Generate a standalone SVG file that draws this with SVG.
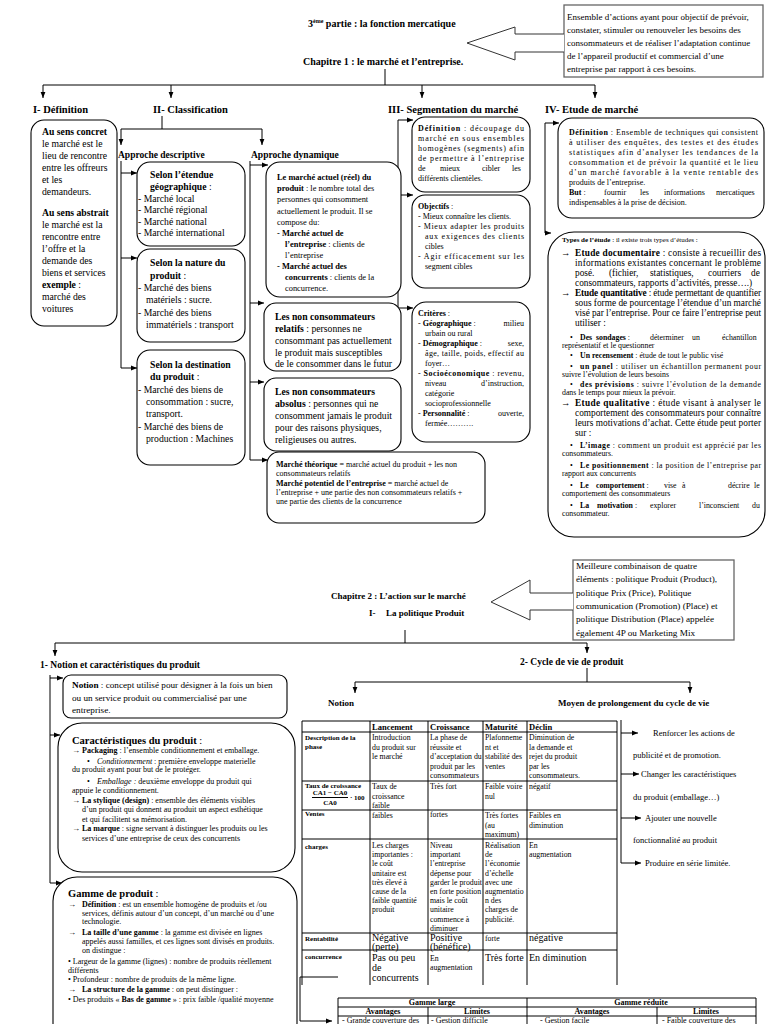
<svg xmlns="http://www.w3.org/2000/svg" width="768" height="1024" viewBox="0 0 768 1024">
<defs>
<marker id="ah" viewBox="0 0 10 10" refX="10" refY="5" markerWidth="6" markerHeight="6" orient="auto" markerUnits="userSpaceOnUse"><path d="M0,1 L10,5 L0,9 z" fill="#000"/></marker>
<style>
text{font-family:"Liberation Serif","Times New Roman",serif;fill:#000}
.h{font-weight:bold;font-size:10.5px}
.hm{font-weight:bold;font-size:9.5px}
.t{font-size:9.7px}
.m{font-size:9.3px}
.s{font-size:8px}
.sa{font-size:8.4px}
.tb{font-size:7.8px}
.bl{font-size:7.8px}
.xs{font-size:7px}
.b{font-weight:bold}
.i{font-style:italic}
.box{fill:#fff;stroke:#000;stroke-width:1.1}
.cb{fill:#fff;stroke:#666;stroke-width:1.3}
.ln{fill:none;stroke:#000;stroke-width:1}
.ar{fill:none;stroke:#000;stroke-width:1;marker-end:url(#ah)}
.hol{fill:#fff;stroke:#333;stroke-width:1}
</style>
</defs>
<rect width="768" height="1024" fill="#fff"/>

<g id="connectors">
<path class="ln" d="M385,69 V85 M43,85 H595"/>
<path class="ar" d="M43,85 V98"/>
<path class="ar" d="M171,85 V98"/>
<path class="ar" d="M422,85 V98"/>
<path class="ar" d="M595,85 V98"/>
<path class="ln" d="M162,116 V129 M121,129 H262"/>
<path class="ar" d="M121,129 V145"/>
<path class="ar" d="M262,129 V145"/>
<path class="ln" d="M121,161 V368"/>
<path class="ar" d="M121,173 H137"/>
<path class="ar" d="M121,258 H137"/>
<path class="ar" d="M121,368 H137"/>
<path class="ln" d="M250,161 V460"/>
<path class="ar" d="M250,165 H268"/>
<path class="ar" d="M250,303 H264"/>
<path class="ar" d="M250,382 H264"/>
<path class="ar" d="M250,460 H268"/>
<path class="ln" d="M398,120 V308"/>
<path class="ar" d="M398,120 H413"/>
<path class="ar" d="M398,195 H413"/>
<path class="ar" d="M398,308 H413"/>
<path class="ln" d="M545,123 V233"/>
<path class="ar" d="M545,123 H559"/>
<path class="ar" d="M545,233 H551"/>
<path class="ln" d="M405,630 V643 M55,643 H587"/>
<path class="ar" d="M55,643 V656"/>
<path class="ar" d="M587,643 V653"/>
<path class="ln" d="M587,668 V682 M355,682 H690"/>
<path class="ar" d="M355,682 V693"/>
<path class="ar" d="M690,682 V693"/>
<path class="ln" d="M50,675 V883"/>
<path class="ar" d="M50,678 H63"/>
<path class="ar" d="M50,735 H60"/>
<path class="ar" d="M50,883 H62"/>
<path class="ln" d="M621,720 V863"/>
<path class="ar" d="M621,733 H638"/>
<path class="ar" d="M621,774 H639"/>
<path class="ar" d="M621,818 H641"/>
<path class="ar" d="M621,863 H641"/>
<path class="ln" d="M338,977 H300 V1021"/>
<path class="ar" d="M300,1021 H332"/>
</g>

<g id="title">
<text x="308" y="27" class="b" font-size="10">3<tspan font-size="6" dy="-4">ème</tspan><tspan dy="4"> partie : la fonction mercatique</tspan></text>
<text x="303" y="65" class="b" font-size="10">Chapitre 1 : le marché et l’entreprise.</text>
</g>

<g id="callout1">
<rect class="cb" x="564" y="5" width="199" height="72"/>
<polyline class="hol" points="564,34 515,34 515,27 467,43 515,60 515,52 564,52"/>
<text font-size="9"><tspan x="567" y="20">Ensemble d’actions ayant pour objectif de prévoir,</tspan><tspan x="567" y="33">constater, stimuler ou renouveler les besoins des</tspan><tspan x="567" y="46">consommateurs et de réaliser l’adaptation continue</tspan><tspan x="567" y="59">de l’appareil productif et commercial d’une</tspan><tspan x="567" y="72">entreprise par rapport à ces besoins.</tspan></text>
</g>

<g id="headings1">
<text x="33" y="113" class="h">I-  Définition</text>
<text x="153" y="113" class="h">II- Classification</text>
<text x="388" y="113" class="h" font-size="11">III- Segmentation du marché</text>
<text x="545" y="113" class="h">IV- Etude de marché</text>
<text x="118" y="158" class="hm">Approche descriptive</text>
<text x="251" y="158" class="hm">Approche dynamique</text>
</g>

<g id="definition">
<rect class="box" x="31" y="120" width="86" height="206" rx="13"/>
<text class="t" font-size="9.5"><tspan x="42" y="135" class="b">Au sens concret</tspan><tspan x="42" y="147">le marché est le</tspan><tspan x="42" y="159">lieu de rencontre</tspan><tspan x="42" y="171">entre les offreurs</tspan><tspan x="42" y="183">et les</tspan><tspan x="42" y="195">demandeurs.</tspan><tspan x="42" y="216" class="b">Au sens abstrait</tspan><tspan x="42" y="228">le marché est la</tspan><tspan x="42" y="240">rencontre entre</tspan><tspan x="42" y="252">l’offre et la</tspan><tspan x="42" y="264">demande des</tspan><tspan x="42" y="276">biens et services</tspan><tspan x="42" y="288" class="b">exemple</tspan><tspan> :</tspan><tspan x="42" y="300">marché des</tspan><tspan x="42" y="312">voitures</tspan></text>
</g>

<g id="desc-geo">
<rect class="box" x="137" y="162" width="108" height="84" rx="13"/>
<text class="t"><tspan x="150" y="178" class="b">Selon l’étendue</tspan><tspan x="150" y="190" class="b">géographique</tspan><tspan> :</tspan><tspan x="138" y="201.5">- Marché local</tspan><tspan x="138" y="213">- Marché régional</tspan><tspan x="138" y="224.5">- Marché national</tspan><tspan x="138" y="236">- Marché international</tspan></text>
</g>
<g id="desc-nature">
<rect class="box" x="137" y="249" width="108" height="93" rx="13"/>
<text class="t"><tspan x="150" y="266" class="b">Selon la nature du</tspan><tspan x="150" y="279" class="b">produit</tspan><tspan> :</tspan><tspan x="138" y="291">- Marché des biens</tspan><tspan x="146" y="303">matériels : sucre.</tspan><tspan x="138" y="316">- Marché des biens</tspan><tspan x="146" y="328">immatériels : transport</tspan></text>
</g>
<g id="desc-dest">
<rect class="box" x="137" y="350" width="108" height="115" rx="13"/>
<text class="t"><tspan x="150" y="368" class="b">Selon la destination</tspan><tspan x="150" y="380" class="b">du produit</tspan><tspan> :</tspan><tspan x="138" y="393">- Marché des biens de</tspan><tspan x="146" y="405">consommation : sucre,</tspan><tspan x="146" y="417">transport.</tspan><tspan x="138" y="430">- Marché des biens de</tspan><tspan x="146" y="442">production : Machines</tspan></text>
</g>

<g id="dyn-actuel">
<rect class="box" x="266" y="162" width="135" height="135" rx="14"/>
<text class="sa"><tspan x="277" y="180" class="b">Le marché actuel (réel)  du</tspan><tspan x="277" y="191" class="b">produit</tspan><tspan> : le nombre total des</tspan><tspan x="277" y="202">personnes qui consomment</tspan><tspan x="277" y="213.5">actuellement le produit. Il se</tspan><tspan x="277" y="225">compose du:</tspan><tspan x="277" y="236" class="b">-  Marché actuel de</tspan><tspan x="285" y="247" class="b">l’entreprise</tspan><tspan> : clients de</tspan><tspan x="285" y="258">l’entreprise</tspan><tspan x="277" y="269" class="b">-  Marché actuel des</tspan><tspan x="285" y="280" class="b">concurrents</tspan><tspan> : clients de la</tspan><tspan x="285" y="291">concurrence.</tspan></text>
</g>
<g id="dyn-relatifs">
<rect class="box" x="264" y="303" width="137" height="68" rx="12"/>
<text class="t" font-size="9.8"><tspan x="275" y="320" class="b">Les non consommateurs</tspan><tspan x="275" y="332" class="b">relatifs</tspan><tspan> : personnes ne</tspan><tspan x="275" y="344">consommant pas actuellement</tspan><tspan x="275" y="356">le produit mais susceptibles</tspan><tspan x="275" y="367">de le consommer dans le futur</tspan></text>
</g>
<g id="dyn-absolus">
<rect class="box" x="264" y="378" width="137" height="73" rx="12"/>
<text class="t" font-size="9.8"><tspan x="275" y="395" class="b">Les non consommateurs</tspan><tspan x="275" y="407" class="b">absolus</tspan><tspan> : personnes qui ne</tspan><tspan x="275" y="419">consomment jamais le produit</tspan><tspan x="275" y="431">pour des raisons physiques,</tspan><tspan x="275" y="443">religieuses ou autres.</tspan></text>
</g>
<g id="dyn-theorique">
<rect class="box" x="267" y="452" width="218" height="71" rx="12"/>
<text class="s"><tspan x="276" y="467" class="b">Marché théorique =</tspan><tspan> marché actuel du produit + les non</tspan><tspan x="276" y="476">consommateurs relatifs</tspan><tspan x="276" y="485.5" class="b">Marché potentiel de l’entreprise =</tspan><tspan> marché actuel de</tspan><tspan x="276" y="494.5">l’entreprise + une partie des non consommateurs relatifs +</tspan><tspan x="276" y="503.5">une partie des clients de la concurrence</tspan></text>
</g>

<g id="seg-def">
<rect class="box" x="412" y="117" width="118" height="75" rx="13"/>
<text class="s" x="418" y="131" textLength="106" lengthAdjust="spacing"><tspan class="b">Définition</tspan> : découpage du</text>
<text class="s" x="418" y="141" textLength="106" lengthAdjust="spacing">marché en sous ensembles</text>
<text class="s" x="418" y="151" textLength="106" lengthAdjust="spacing">homogènes (segments) afin</text>
<text class="s" x="418" y="161" textLength="106" lengthAdjust="spacing">de permettre à l’entreprise</text>
<text class="s" y="171"><tspan x="418">de</tspan><tspan x="440">mieux</tspan><tspan x="482">cibler</tspan><tspan x="512">les</tspan></text>
<text class="s" x="418" y="180.5">différents clientèles.</text>
</g>
<g id="seg-obj">
<rect class="box" x="412" y="195" width="118" height="93" rx="13"/>
<text class="s" x="418" y="209"><tspan class="b">Objectifs</tspan> :</text>
<text class="s" x="418" y="219">- Mieux connaître les clients.</text>
<text class="s" x="418" y="229" textLength="106" lengthAdjust="spacing">- Mieux adapter les produits</text>
<text class="s" x="425" y="239" textLength="99" lengthAdjust="spacing">aux exigences des clients</text>
<text class="s" x="425" y="249">cibles</text>
<text class="s" x="418" y="259" textLength="106" lengthAdjust="spacing">- Agir efficacement sur les</text>
<text class="s" x="425" y="269">segment cibles</text>
</g>
<g id="seg-crit">
<rect class="box" x="412" y="302" width="118" height="140" rx="14"/>
<text class="s" x="418" y="316"><tspan class="b">Critères</tspan> :</text>
<text class="s" x="418" y="326">- <tspan class="b">Géographique</tspan> :</text>
<text class="s" x="524" y="326" text-anchor="end">milieu</text>
<text class="s" x="425" y="336">urbain ou rural</text>
<text class="s" x="418" y="346">- <tspan class="b">Démographique</tspan> :</text>
<text class="s" x="524" y="346" text-anchor="end">sexe,</text>
<text class="s" x="425" y="356" textLength="99" lengthAdjust="spacing">âge, taille, poids, effectif au</text>
<text class="s" x="425" y="366">foyer…</text>
<text class="s" x="418" y="376" textLength="106" lengthAdjust="spacing">- <tspan class="b">Socioéconomique</tspan> : revenu,</text>
<text class="s" x="425" y="386">niveau</text>
<text class="s" x="524" y="386" text-anchor="end">d’instruction,</text>
<text class="s" x="425" y="396">catégorie</text>
<text class="s" x="425" y="406">socioprofessionnelle</text>
<text class="s" x="418" y="416">- <tspan class="b">Personnalité</tspan> :</text>
<text class="s" x="524" y="416" text-anchor="end">ouverte,</text>
<text class="s" x="425" y="426">fermée……….</text>
</g>

<g id="etude-def">
<rect class="box" x="558" y="118" width="206" height="100" rx="14"/>
<text class="s" x="569" y="135" textLength="189" lengthAdjust="spacing"><tspan class="b">Définition</tspan> : Ensemble de techniques qui consistent</text>
<text class="s" x="569" y="145" textLength="189" lengthAdjust="spacing">à utiliser des enquêtes, des testes et des études</text>
<text class="s" x="569" y="155" textLength="189" lengthAdjust="spacing">statistiques afin d’analyser les tendances de la</text>
<text class="s" x="569" y="165" textLength="189" lengthAdjust="spacing">consommation et de prévoir la quantité et le lieu</text>
<text class="s" x="569" y="175" textLength="189" lengthAdjust="spacing">d’un marché favorable à la vente rentable des</text>
<text class="s" x="569" y="185">produits de l’entreprise.</text>
<text class="s" y="195"><tspan x="569" class="b">But</tspan><tspan> :</tspan><tspan x="604">fournir</tspan><tspan x="640">les</tspan><tspan x="664">informations</tspan><tspan x="716">mercatiques</tspan></text>
<text class="s" x="569" y="205">indispensables à la prise de décision.</text>
</g>

<g id="etude-types">
<rect class="box" x="548" y="232" width="217" height="305" rx="26"/>
<text class="xs" x="562" y="242"><tspan class="b">Types de l’étude</tspan> : il existe trois types d’études :</text>
<text class="m" x="561" y="256">→</text>
<text class="m" x="575" y="256" textLength="186" lengthAdjust="spacing"><tspan class="b">Etude documentaire</tspan> : consiste à recueillir des</text>
<text class="m" x="575" y="265.5" textLength="186" lengthAdjust="spacing">informations existantes concernant le problème</text>
<text class="m" y="275.5"><tspan x="575">posé.</tspan><tspan x="609">(fichier,</tspan><tspan x="650">statistiques,</tspan><tspan x="708">courriers</tspan><tspan x="751">de</tspan></text>
<text class="m" x="575" y="285.5">consommateurs, rapports d’activités, presse….)</text>
<text class="m" x="561" y="296">→</text>
<text class="m" x="575" y="296" textLength="186" lengthAdjust="spacing"><tspan class="b">Etude quantitative</tspan> : étude permettant de quantifier</text>
<text class="m" x="575" y="306" textLength="186" lengthAdjust="spacing">sous forme de pourcentage l’étendue d’un marché</text>
<text class="m" x="575" y="316" textLength="186" lengthAdjust="spacing">visé par l’entreprise. Pour ce faire  l’entreprise peut</text>
<text class="m" x="575" y="326">utiliser :</text>
<text class="bl" x="570" y="339.5">•</text>
<text class="bl" y="339.5"><tspan x="580" class="b">Des</tspan><tspan x="596" class="b">sondages</tspan><tspan> :</tspan><tspan x="650">déterminer</tspan><tspan x="692">un</tspan><tspan x="722">échantillon</tspan></text>
<text class="bl" x="562" y="347.5">représentatif et le questionner</text>
<text class="bl" x="570" y="357.5">•</text>
<text class="bl" x="580" y="357.5"><tspan class="b">Un recensement</tspan> : étude de tout le public visé</text>
<text class="bl" x="570" y="368.5">•</text>
<text class="bl" x="580" y="368.5" textLength="181" lengthAdjust="spacing"><tspan class="b">un panel</tspan> : utiliser un échantillon permanent pour</text>
<text class="bl" x="562" y="376.5">suivre l’évolution de leurs besoins</text>
<text class="bl" x="570" y="386.5">•</text>
<text class="bl" x="580" y="386.5" textLength="181" lengthAdjust="spacing"><tspan class="b">des prévisions</tspan> : suivre l’évolution de la demande</text>
<text class="bl" x="562" y="394.5">dans le temps pour mieux la prévoir.</text>
<text class="m" x="561" y="406">→</text>
<text class="m" x="575" y="406" textLength="186" lengthAdjust="spacing"><tspan class="b">Etude qualitative</tspan> : étude visant à analyser le</text>
<text class="m" x="575" y="416" textLength="186" lengthAdjust="spacing">comportement des consommateurs pour connaître</text>
<text class="m" x="575" y="426" textLength="186" lengthAdjust="spacing">leurs motivations d’achat. Cette étude peut porter</text>
<text class="m" x="575" y="436">sur :</text>
<text class="bl" x="570" y="447.5">•</text>
<text class="bl" x="580" y="447.5" textLength="181" lengthAdjust="spacing"><tspan class="b">L’image</tspan> : comment un produit est apprécié par les</text>
<text class="bl" x="562" y="455.5">consommateurs.</text>
<text class="bl" x="570" y="467.5">•</text>
<text class="bl" x="580" y="467.5" textLength="181" lengthAdjust="spacing"><tspan class="b">Le positionnement</tspan> : la position de l’entreprise par</text>
<text class="bl" x="562" y="475.5">rapport aux concurrents</text>
<text class="bl" x="570" y="487.5">•</text>
<text class="bl" y="487.5"><tspan x="580" class="b">Le</tspan><tspan x="596" class="b">comportement</tspan><tspan> :</tspan><tspan x="664">vise</tspan><tspan x="682">à</tspan><tspan x="728">décrire</tspan><tspan x="754">le</tspan></text>
<text class="bl" x="562" y="495.5">comportement des consommateurs</text>
<text class="bl" x="570" y="507.5">•</text>
<text class="bl" y="507.5"><tspan x="580" class="b">La</tspan><tspan x="597" class="b">motivation</tspan><tspan> :</tspan><tspan x="650">explorer</tspan><tspan x="699">l’inconscient</tspan><tspan x="752">du</tspan></text>
<text class="bl" x="562" y="515.5">consommateur.</text>
</g>

<g id="chapitre2">
<text x="331" y="599" class="b" font-size="9">Chapitre 2 : L’action sur le marché</text>
<text x="369" y="616" class="b" font-size="9">I-</text>
<text x="386" y="616" class="b" font-size="9">La politique Produit</text>
</g>

<g id="callout2">
<rect class="cb" x="573" y="560" width="161" height="80"/>
<polyline class="hol" points="573,593 530,593 530,580 491,602 530,620 530,610 573,610"/>
<text font-size="9.2"><tspan x="576" y="569">Meilleure combinaison de quatre</tspan><tspan x="576" y="582">éléments : politique Produit (Product),</tspan><tspan x="576" y="596">politique Prix (Price), Politique</tspan><tspan x="576" y="609">communication (Promotion) (Place) et</tspan><tspan x="576" y="622">politique Distribution (Place) appelée</tspan><tspan x="576" y="636">également 4P ou Marketing Mix</tspan></text>
</g>

<g id="headings2">
<text x="40" y="668" class="hm">1-  Notion et caractéristiques du produit</text>
<text x="520" y="665" class="hm">2- Cycle de vie de produit</text>
<text x="328" y="706" class="b" font-size="9">Notion</text>
<text x="558" y="706" class="b" font-size="9">Moyen de prolongement du  cycle de vie</text>
</g>

<g id="notion">
<rect class="box" x="63" y="675" width="224" height="43" rx="8"/>
<text font-size="9.2"><tspan x="72" y="688" class="b">Notion</tspan><tspan> : concept utilisé pour désigner à la fois un bien</tspan><tspan x="72" y="701">ou un service produit ou commercialisé par une</tspan><tspan x="72" y="713">entreprise.</tspan></text>
</g>

<g id="caracteristiques">
<rect class="box" x="58" y="723" width="237" height="149" rx="24"/>
<text x="72" y="743.5" font-size="10.5" class="b">Caractéristiques du produit <tspan font-weight="normal">:</tspan></text>
<text class="s" x="72" y="752.5">→</text>
<text class="s" x="82" y="752.5"><tspan class="b">Packaging</tspan> : l’ensemble conditionnement et emballage.</text>
<text class="s" x="87" y="763.5">•</text>
<text class="s" x="97" y="763.5"><tspan class="i">Conditionnement</tspan> : première enveloppe materielle</text>
<text class="s" x="72" y="771.5">du produit ayant pour but de le protéger.</text>
<text class="s" x="87" y="783.5">•</text>
<text class="s" x="97" y="783.5"><tspan class="i">Emballage :</tspan> deuxième enveloppe du produit qui</text>
<text class="s" x="72" y="792.5">appuie le conditionnement.</text>
<text class="s" x="72" y="802.5">→</text>
<text class="s" x="82" y="802.5"><tspan class="b">La stylique (design)</tspan> : ensemble des éléments visibles</text>
<text class="s" x="82" y="811.5">d’un produit qui donnent au produit un aspect esthétique</text>
<text class="s" x="82" y="821.5">et qui facilitent sa mémorisation.</text>
<text class="s" x="72" y="830.5">→</text>
<text class="s" x="82" y="830.5"><tspan class="b">La marque</tspan> : signe servant à distinguer les produits ou les</text>
<text class="s" x="82" y="840.5">services d’une entreprise de ceux des concurrents</text>
</g>

<g id="gamme">
<rect class="box" x="53" y="877" width="244" height="170" rx="24"/>
<text x="68" y="896.5" font-size="10.5" class="b">Gamme de produit <tspan font-weight="normal">:</tspan></text>
<text class="s" x="68" y="906.5">→</text>
<text class="s" x="82" y="906.5"><tspan class="b">Définition</tspan> : est un ensemble homogène de produits et /ou</text>
<text class="s" x="82" y="915.5">services, définis autour d’un concept, d’un marché ou d’une</text>
<text class="s" x="82" y="923.5">technologie.</text>
<text class="s" x="68" y="934.5">→</text>
<text class="s" x="82" y="934.5"><tspan class="b">La taille d’une gamme</tspan> : la gamme est divisée en lignes</text>
<text class="s" x="82" y="943.5">appelés aussi familles, et ces lignes sont divisés en produits.</text>
<text class="s" x="82" y="952.5">on distingue :</text>
<text class="s" x="68" y="963.5">• Largeur de la gamme (lignes) : nombre de produits réellement</text>
<text class="s" x="68" y="972.5">différents</text>
<text class="s" x="68" y="981.5">• Profondeur : nombre de produits de la même ligne.</text>
<text class="s" x="68" y="991.5">→</text>
<text class="s" x="82" y="991.5"><tspan class="b">La structure de la gamme</tspan> : on peut distinguer :</text>
<text class="s" x="68" y="1001.5">• Des produits « <tspan class="b">Bas de gamme</tspan> » : prix faible /qualité moyenne</text>
</g>

<g id="cycle-table">
<path class="ln" d="M302,721 H617 M302,732 H617 M302,781 H617 M302,810 H617 M302,839 H617 M302,933 H617 M302,950 H617 M302,721 V985 M370,721 V985 M428,721 V985 M483,721 V985 M527,721 V985 M617,721 V985"/>
<text class="b" font-size="8.5"><tspan x="372" y="730">Lancement</tspan><tspan x="430" y="730">Croissance</tspan><tspan x="485" y="730">Maturité</tspan><tspan x="529" y="730">Déclin</tspan></text>
<text class="xs b"><tspan x="305" y="740">Description de la</tspan><tspan x="305" y="749">phase</tspan></text>
<text class="tb"><tspan x="372" y="740">Introduction</tspan><tspan x="372" y="749.5">du produit sur</tspan><tspan x="372" y="759">le marché</tspan></text>
<text class="tb"><tspan x="430" y="740">La phase de</tspan><tspan x="430" y="749.5">réussite et</tspan><tspan x="430" y="759">d’acceptation du</tspan><tspan x="430" y="768.5">produit par les</tspan><tspan x="430" y="778">consommateurs</tspan></text>
<text class="tb"><tspan x="485" y="740">Plafonneme</tspan><tspan x="485" y="749.5">nt et</tspan><tspan x="485" y="759">stabilité des</tspan><tspan x="485" y="768.5">ventes</tspan></text>
<text class="tb"><tspan x="529" y="740">Diminution de</tspan><tspan x="529" y="749.5">la demande et</tspan><tspan x="529" y="759">rejet du produit</tspan><tspan x="529" y="768.5">par les</tspan><tspan x="529" y="778">consommateurs.</tspan></text>
<text class="xs b" x="305" y="788">Taux de croissance</text>
<text class="xs b" x="330" y="795" text-anchor="middle">CA1 − CA0</text>
<path class="ln" d="M312,797.5 H348"/>
<text class="xs b" x="330" y="805" text-anchor="middle">CA0</text>
<text class="xs b" x="350" y="800">· 100</text>
<text class="tb"><tspan x="372" y="789">Taux de</tspan><tspan x="372" y="798.5">croissance</tspan><tspan x="372" y="808">faible</tspan></text>
<text class="tb" x="430" y="789">Très fort</text>
<text class="tb"><tspan x="485" y="789">Faible voire</tspan><tspan x="485" y="798.5">nul</tspan></text>
<text class="tb" x="529" y="789">négatif</text>
<text class="xs b" x="305" y="816">Ventes</text>
<text class="tb" x="372" y="818">faibles</text>
<text class="tb" x="430" y="817">fortes</text>
<text class="tb"><tspan x="485" y="818">Très fortes</tspan><tspan x="485" y="827.5">(au</tspan><tspan x="485" y="837">maximum)</tspan></text>
<text class="tb"><tspan x="529" y="818">Faibles en</tspan><tspan x="529" y="827.5">diminution</tspan></text>
<text class="xs b" x="305" y="849">charges</text>
<text class="tb"><tspan x="372" y="848">Les charges</tspan><tspan x="372" y="857.2">importantes :</tspan><tspan x="372" y="866.4">le coût</tspan><tspan x="372" y="875.6">unitaire est</tspan><tspan x="372" y="884.8">très élevé à</tspan><tspan x="372" y="894">cause de la</tspan><tspan x="372" y="903.2">faible quantité</tspan><tspan x="372" y="912.4">produit</tspan></text>
<text class="tb"><tspan x="430" y="848">Niveau</tspan><tspan x="430" y="857.2">important</tspan><tspan x="430" y="866.4">l’entreprise</tspan><tspan x="430" y="875.6">dépense pour</tspan><tspan x="430" y="884.8">garder le produit</tspan><tspan x="430" y="894">en forte position</tspan><tspan x="430" y="903.2">mais le coût</tspan><tspan x="430" y="912.4">unitaire</tspan><tspan x="430" y="921.6">commence à</tspan><tspan x="430" y="930.8">diminuer</tspan></text>
<text class="tb"><tspan x="485" y="848">Réalisation</tspan><tspan x="485" y="857.2">de</tspan><tspan x="485" y="866.4">l’économie</tspan><tspan x="485" y="875.6">d’échelle</tspan><tspan x="485" y="884.8">avec une</tspan><tspan x="485" y="894">augmentatio</tspan><tspan x="485" y="903.2">n des</tspan><tspan x="485" y="912.4">charges de</tspan><tspan x="485" y="921.6">publicité.</tspan></text>
<text class="tb"><tspan x="529" y="848">En</tspan><tspan x="529" y="857.2">augmentation</tspan></text>
<text class="xs b" x="305" y="941">Rentabilité</text>
<text font-size="10"><tspan x="372" y="941">Négative</tspan><tspan x="372" y="950">(perte)</tspan></text>
<text font-size="10"><tspan x="430" y="941">Positive</tspan><tspan x="430" y="950">(bénéfice)</tspan></text>
<text class="tb" x="485" y="941">forte</text>
<text font-size="10" x="529" y="941">négative</text>
<text class="xs b" x="305" y="959">concurrence</text>
<text font-size="10"><tspan x="372" y="961">Pas ou peu</tspan><tspan x="372" y="971">de</tspan><tspan x="372" y="981">concurrents</tspan></text>
<text class="tb"><tspan x="430" y="961">En</tspan><tspan x="430" y="970">augmentation</tspan></text>
<text font-size="10" x="485" y="961">Très forte</text>
<text font-size="10" x="529" y="961">En diminution</text>
</g>

<g id="prolongement">
<text font-size="8.5"><tspan x="653" y="736">Renforcer les actions de</tspan><tspan x="633" y="758">publicité et de promotion.</tspan><tspan x="641" y="777">Changer les caractéristiques</tspan><tspan x="633" y="800">du produit (emballage…)</tspan><tspan x="645" y="821">Ajouter une nouvelle</tspan><tspan x="633" y="843">fonctionnalité au produit</tspan><tspan x="645" y="866">Produire en série limitée.</tspan></text>
</g>

<g id="gamme-table">
<path class="ln" d="M338,998 H756 M338,1007 H756 M338,1016 H756 M338,998 V1024 M428,1007 V1024 M527,998 V1024 M657,1007 V1024 M756,998 V1024"/>
<text class="s b" text-anchor="middle"><tspan x="432" y="1005">Gamme large</tspan><tspan x="641" y="1005">Gamme réduite</tspan><tspan x="383" y="1014">Avantages</tspan><tspan x="477" y="1014">Limites</tspan><tspan x="592" y="1014">Avantages</tspan><tspan x="706" y="1014">Limites</tspan></text>
<text class="s"><tspan x="342" y="1023">- Grande couverture des</tspan><tspan x="431" y="1023">- Gestion difficile</tspan><tspan x="540" y="1023">-     Gestion facile</tspan><tspan x="662" y="1023">-    Faible couverture des</tspan></text>
</g>
</svg>
